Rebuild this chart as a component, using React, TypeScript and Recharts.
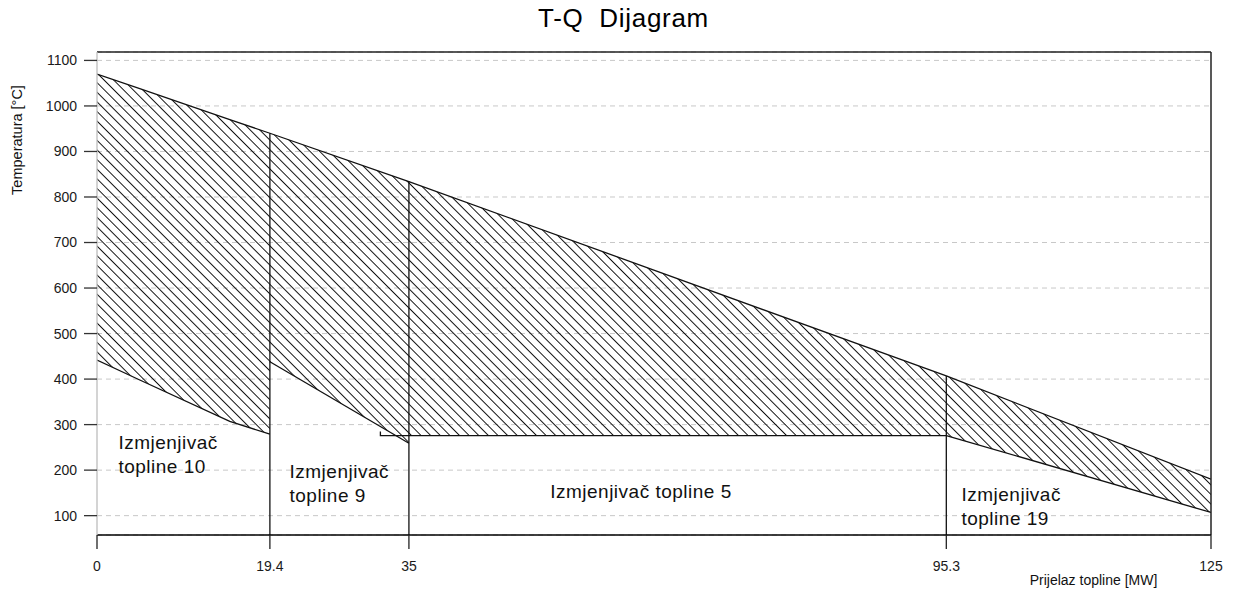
import React from "react";
import {
  ComposedChart,
  Area,
  Line,
  XAxis,
  YAxis,
  CartesianGrid,
  ReferenceLine,
  ReferenceDot,
} from "recharts";

// ---- data ----
const Q_TICKS = [0, 19.4, 35, 95.3, 125];
const T_TICKS = [100, 200, 300, 400, 500, 600, 700, 800, 900, 1000, 1100];
const T_DOMAIN = [57.5, 1118.5];
const Q_DOMAIN = [0, 125];

// hot stream (flue gas)
const hotQ = [0, 4.8, 14.9, 19.4, 35, 95.3, 125];
const hotT = [1070, 1038, 970, 940, 834, 407, 180];

// heat exchangers: Q positions, hot side, cold side
const hx10Q = [0, 4.8, 14.9, 19.4];
const hx10Hot = [1070, 1038, 970, 940];
const hx10Cold = [442, 398, 307, 279];

const hx9Q = [19.4, 35];
const hx9Hot = [940, 834];
const hx9Cold = [438, 259];

const hx5Q = [35, 95.3];
const hx5Hot = [834, 407];
const hx5Cold = [276, 276];
const hx5LineQ = [31.8, 31.8, 95.3];
const hx5LineT = [285, 276, 276];

const hx19Q = [95.3, 125];
const hx19Hot = [407, 180];
const hx19Cold = [276, 107];

// divider lines between exchangers
const dividerQ = [19.4, 35, 95.3];
const dividerTop = [940, 834, 407];

// exchanger names and anchor (Q, T) of their text
const exNames = [
  ["Izmjenjivač", "topline 10"],
  ["Izmjenjivač", "topline 9"],
  ["Izmjenjivač topline 5"],
  ["Izmjenjivač", "topline 19"],
];
const exLabelQ = [2.4, 21.6, 50.85, 97.0];
const exLabelT = [246.6, 183, 139, 132];

// ---- build table ----
type Row = { q: number; [k: string]: any };
const rowMap = new Map<number, Row>();
const getRow = (q: number) => {
  if (!rowMap.has(q)) rowMap.set(q, { q });
  return rowMap.get(q)!;
};
hotQ.forEach((q, i) => (getRow(q).hot = hotT[i]));
const addRange = (key: string, qs: number[], hot: number[], cold: number[]) =>
  qs.forEach((q, i) => (getRow(q)[key] = [cold[i], hot[i]]));
addRange("hx10", hx10Q, hx10Hot, hx10Cold);
addRange("hx9", hx9Q, hx9Hot, hx9Cold);
addRange("hx5", hx5Q, hx5Hot, hx5Cold);
addRange("hx19", hx19Q, hx19Hot, hx19Cold);
const chartData = Array.from(rowMap.values()).sort((a, b) => a.q - b.q);

const toLine = (qs: number[], ts: number[]) => qs.map((q, i) => ({ q, t: ts[i] }));
const coldLines = [
  toLine(hx10Q, hx10Cold),
  toLine(hx9Q, hx9Cold),
  toLine(hx5LineQ, hx5LineT),
  toLine(hx19Q, hx19Cold),
];

const FONT = "'Liberation Sans', Arial, sans-serif";

const ExLabel = (props: any) => {
  const { cx, cy, lines } = props;
  return (
    <text
      x={cx}
      y={cy}
      fontSize={19}
      letterSpacing={0.5}
      fontFamily={FONT}
      fill="#111"
    >
      {lines.map((l: string, i: number) => (
        <tspan key={i} x={cx} dy={i === 0 ? 0 : 24}>
          {l}
        </tspan>
      ))}
    </text>
  );
};

const YLabel = () => (
  <text
    x={14}
    y={132}
    transform="rotate(-90, 14, 132)"
    textAnchor="middle"
    fontSize={14.5}
    fontFamily={FONT}
    fill="#111"
  >
    Temperatura [°C]
  </text>
);

const XLabel = () => (
  <text x={1085.5} y={577} textAnchor="middle" fontSize={14} fontFamily={FONT} fill="#111">
    Prijelaz topline [MW]
  </text>
);

export default function App() {
  const W = 1217;
  const H = 583;
  return (
    <div style={{ position: "relative", width: W, height: H, fontFamily: FONT }}>
      <div
        style={{
          position: "absolute",
          left: 0,
          top: -3,
          width: 1231,
          textAlign: "center",
          fontSize: 26,
          letterSpacing: "0.7px",
          lineHeight: "26px",
          whiteSpace: "pre",
          color: "#000",
        }}
      >
        {"T-Q  Dijagram"}
      </div>
      <ComposedChart
        width={W}
        height={H}
        data={chartData}
        margin={{ top: 44, right: 14, left: 29, bottom: 26 }}
      >
        <defs>
          <pattern
            id="hatch"
            width="6.8"
            height="6.8"
            patternUnits="userSpaceOnUse"
            patternTransform="rotate(-45)"
          >
            <line x1="3.4" y1="0" x2="3.4" y2="6.8" stroke="#111" strokeWidth="1" />
          </pattern>
        </defs>
        <CartesianGrid
          vertical={false}
          stroke="#c8c8c8"
          strokeDasharray="5 4"
        />
        <XAxis
          dataKey="q"
          type="number"
          domain={Q_DOMAIN}
          ticks={Q_TICKS}
          interval={0}
          height={30}
          axisLine={{ stroke: "#000", strokeWidth: 1.3 }}
          tickLine={{ stroke: "#222", strokeWidth: 1.3 }}
          tickSize={14}
          tickMargin={12}
          tick={{ fontSize: 14, fill: "#1a1a1a", fontFamily: FONT }}
          label={<XLabel />}
          allowDataOverflow
        />
        <YAxis
          type="number"
          domain={T_DOMAIN}
          ticks={T_TICKS}
          interval={0}
          width={60}
          axisLine={{ stroke: "#bdbdbd", strokeWidth: 1.3 }}
          tickLine={{ stroke: "#333", strokeWidth: 1.3 }}
          tickSize={13}
          tickMargin={7}
          tick={{ fontSize: 14, fill: "#1a1a1a", fontFamily: FONT }}
          label={<YLabel />}
          allowDataOverflow
        />
        {["hx10", "hx9", "hx5", "hx19"].map((k) => (
          <Area
            key={k}
            dataKey={k}
            type="linear"
            stroke="none"
            fill="url(#hatch)"
            fillOpacity={1}
            isAnimationActive={false}
            connectNulls={false}
            dot={false}
            activeDot={false}
          />
        ))}
        <Line
          dataKey="hot"
          type="linear"
          stroke="#111"
          strokeWidth={1.3}
          dot={false}
          activeDot={false}
          connectNulls
          isAnimationActive={false}
        />
        {coldLines.map((d, i) => (
          <Line
            key={"c" + i}
            data={d}
            dataKey="t"
            type="linear"
            stroke="#111"
            strokeWidth={1.3}
            dot={false}
            activeDot={false}
            isAnimationActive={false}
          />
        ))}
        {dividerQ.map((q, i) => (
          <ReferenceLine
            key={"d" + i}
            segment={[
              { x: q, y: T_DOMAIN[0] },
              { x: q, y: dividerTop[i] },
            ]}
            stroke="#111"
            strokeWidth={1.3}
          />
        ))}
        <ReferenceLine y={T_DOMAIN[1]} stroke="#222" strokeWidth={1.5} />
        <ReferenceLine x={Q_DOMAIN[1]} stroke="#222" strokeWidth={1.5} />
        {exNames.map((lines, i) => (
          <ReferenceDot
            key={"l" + i}
            x={exLabelQ[i]}
            y={exLabelT[i]}
            r={0}
            shape={(p: any) => <ExLabel {...p} lines={lines} />}
          />
        ))}
      </ComposedChart>
    </div>
  );
}
